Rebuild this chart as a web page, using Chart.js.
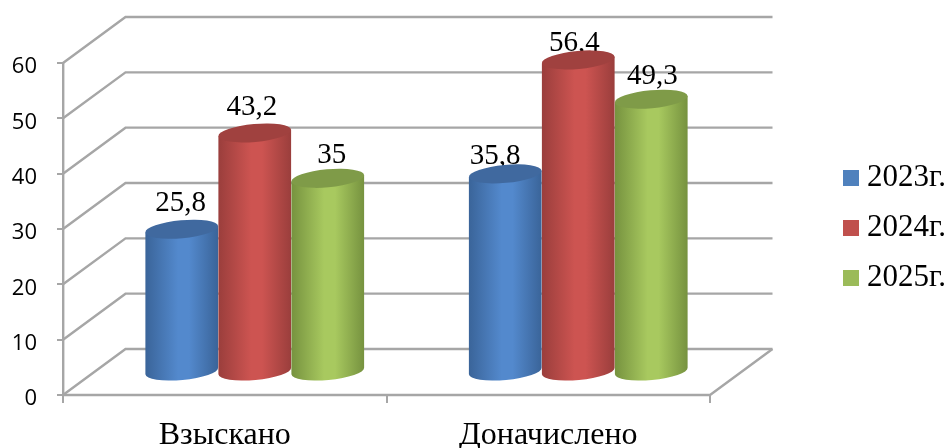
<!DOCTYPE html>
<html lang="ru">
<head>
<meta charset="utf-8">
<title>Взыскано и доначислено</title>
<script src="https://cdn.jsdelivr.net/npm/chart.js@4/dist/chart.umd.min.js"></script>
<style>
    html, body { margin: 0; padding: 0; background: #fff; }
    #wrap { width: 948px; height: 448px; }
</style>
</head>
<body>
<div id="wrap"><canvas id="chart" width="948" height="448"></canvas></div>
<script>
// Данные
const categories = ['Взыскано', 'Доначислено'];
const seriesNames = ['2023г.', '2024г.', '2025г.'];
const values2023 = [25.8, 35.8];
const values2024 = [43.2, 56.4];
const values2025 = [35, 49.3];
const yMax = 60;
const yStep = 10;

// Оформление
const legendColors = ['#4f81bd', '#c0504d', '#9bbb59'];
const bodyEdge = ['#3a6499', '#9a3e3c', '#76923f'];
const bodyMid = ['#5389cd', '#cd5451', '#a8c95f'];
const capColor = ['#40699f', '#a0413f', '#7f9b48'];
const gridColor = '#a6a6a6';
const serif = '"Liberation Serif", "Times New Roman", serif';

// Глубина псевдо-3D: задняя стенка смещена на depthX / depthY
const depthX = 62.5;
const depthY = -46;
const barShiftX = 30;
const tilt = -0.09;
const capRy = 9;
// Ручная подгонка подписей над столбиками [dx, подъём]
const labelNudge = [
    [[-1, 26], [-3, 26], [4, 23]],
    [[-10, 18], [-4, 17], [1, 23]]
];

function drawWalls(chart) {
    const ctx = chart.ctx;
    const { left, right, bottom } = chart.chartArea;
    const y = chart.scales.y;
    ctx.save();
    ctx.strokeStyle = gridColor;
    ctx.lineWidth = 2.4;
    ctx.lineJoin = 'miter';
    y.ticks.forEach(t => {
        const py = y.getPixelForValue(t.value);
        ctx.beginPath();
        ctx.moveTo(left, py);
        ctx.lineTo(left + depthX, py + depthY);
        ctx.lineTo(right + depthX, py + depthY);
        ctx.stroke();
    });
    // пол
    ctx.beginPath();
    ctx.moveTo(left, bottom);
    ctx.lineTo(right, bottom);
    ctx.lineTo(right + depthX, bottom + depthY);
    ctx.stroke();
    ctx.restore();
}

function drawCylinder(ctx, bar, i) {
    const rx = bar.width / 2;
    const cx = bar.x + barShiftX;
    const top = bar.y + depthY / 2;
    const base = bar.base + depthY / 2;
    const dx = rx * Math.cos(tilt);
    const dy = rx * Math.sin(tilt);

    const grad = ctx.createLinearGradient(cx - rx, 0, cx + rx, 0);
    grad.addColorStop(0, bodyEdge[i]);
    grad.addColorStop(0.45, bodyMid[i]);
    grad.addColorStop(0.6, bodyMid[i]);
    grad.addColorStop(1, bodyEdge[i]);

    ctx.fillStyle = grad;
    ctx.beginPath();
    ctx.moveTo(cx - dx, top - dy);
    ctx.lineTo(cx - dx, base - dy);
    ctx.ellipse(cx, base, rx, capRy, tilt, Math.PI, 0, true);
    ctx.lineTo(cx + dx, top + dy);
    ctx.closePath();
    ctx.fill();

    ctx.fillStyle = capColor[i];
    ctx.beginPath();
    ctx.ellipse(cx, top, rx, capRy, tilt, 0, Math.PI * 2);
    ctx.fill();
}

const cylinders3d = {
    id: 'cylinders3d',
    afterLayout(chart) {
        // легенда правее области графика, как в оригинале
        const lg = chart.legend;
        lg.left = 831.5;
        lg.right = 948;
        lg.top = 143.5;
        lg.bottom = 448;
    },
    beforeDatasetsDraw(chart) {
        const ctx = chart.ctx;
        drawWalls(chart);

        // подписи рисуем до столбиков: запятая уходит за верх цилиндра
        ctx.save();
        ctx.fillStyle = '#000';
        ctx.font = '29px ' + serif;
        ctx.textAlign = 'center';
        ctx.textBaseline = 'middle';
        chart.data.datasets.forEach((ds, i) => {
            chart.getDatasetMeta(i).data.forEach((bar, j) => {
                const nudge = labelNudge[j][i];
                const text = String(ds.data[j]).replace('.', ',');
                ctx.fillText(text, bar.x + barShiftX + nudge[0], bar.y + depthY / 2 - nudge[1]);
            });
        });
        ctx.restore();

        ctx.save();
        chart.data.datasets.forEach((ds, i) => {
            chart.getDatasetMeta(i).data.forEach(bar => drawCylinder(ctx, bar, i));
        });
        ctx.restore();
        return false;
    }
};

new Chart(document.getElementById('chart'), {
    type: 'bar',
    plugins: [cylinders3d],
    data: {
        labels: categories,
        datasets: [
            { label: seriesNames[0], data: values2023, backgroundColor: legendColors[0], borderWidth: 0 },
            { label: seriesNames[1], data: values2024, backgroundColor: legendColors[1], borderWidth: 0 },
            { label: seriesNames[2], data: values2025, backgroundColor: legendColors[2], borderWidth: 0 }
        ]
    },
    options: {
        responsive: false,
        animation: false,
        layout: { padding: { top: 63, right: 238, left: 0, bottom: 0 } },
        datasets: { bar: { categoryPercentage: 0.677, barPercentage: 1 } },
        scales: {
            x: {
                afterFit(s) { s.height = 53; },
                grid: { drawOnChartArea: false, color: gridColor, lineWidth: 2, tickLength: 8 },
                border: { display: false },
                ticks: { color: '#000', padding: 13, font: { family: serif, size: 32 } }
            },
            y: {
                min: 0,
                max: yMax,
                afterFit(s) { s.width = 63; },
                grid: { drawOnChartArea: false, color: gridColor, lineWidth: 2, tickLength: 6 },
                border: { display: true, color: gridColor, width: 2.4 },
                ticks: { stepSize: yStep, color: '#000', padding: 20, labelOffset: 4, font: { family: '"Open Sans", sans-serif', size: 22 } }
            }
        },
        plugins: {
            tooltip: { enabled: false },
            legend: {
                position: 'chartArea',
                align: 'start',
                labels: {
                    color: '#000',
                    font: { family: serif, size: 31 },
                    usePointStyle: true,
                    pointStyle: 'rect',
                    boxWidth: 1,
                    boxHeight: 16,
                    padding: 19
                }
            }
        }
    }
});
</script>
</body>
</html>
